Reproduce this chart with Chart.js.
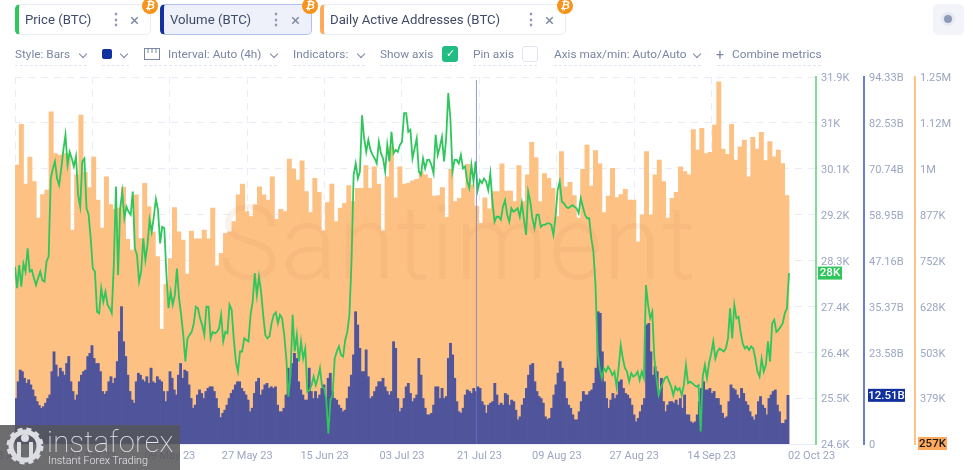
<!DOCTYPE html>
<html>
<head>
<meta charset="utf-8">
<title>Santiment BTC</title>
<script src="https://cdn.jsdelivr.net/npm/chart.js@4"></script>
<style>
html, body { margin: 0; padding: 0; background: #fff; width: 973px; height: 470px; overflow: hidden; font-family: Roboto, sans-serif; }
#chart { position: absolute; left: 0; top: 0; }
.tab { position: absolute; top: 4px; height: 31px; box-sizing: border-box; border: 1px solid #e8ecf5; border-left: 4px solid; border-radius: 5px; background: #fff; }
.tab.on { background: #eef1fa; border-color: #b3c0ea; border-left-color: #12309e; }
.tabtext { position: absolute; top: 11px; font-size: 13.2px; line-height: 18px; color: #3f4a66; white-space: nowrap; }
.dots { position: absolute; top: 10px; font-size: 16px; line-height: 20px; color: #8e99b3; font-weight: 700; }
.close { position: absolute; top: 10px; font-size: 17px; line-height: 20px; color: #7c88a3; }
.coin { position: absolute; top: -2px; width: 16px; height: 16px; border-radius: 50%; background: #f7931a; color: #fff; font-size: 11px; line-height: 16px; font-weight: 700; font-style: italic; text-align: center; }
.opt { position: absolute; top: 46px; height: 20px; font-size: 11.8px; line-height: 16px; color: #7a86a3; white-space: nowrap; border-bottom: 1px dashed #dfe4ef; box-sizing: border-box; }
.chev { position: absolute; top: 51px; width: 5px; height: 5px; border-right: 1px solid #7a86a3; border-bottom: 1px solid #7a86a3; transform: rotate(45deg); }
.box { position: absolute; top: 46px; width: 16px; height: 16px; border-radius: 3px; box-sizing: border-box; }
#mark { position: absolute; left: 218px; top: 184px; font-size: 104px; line-height: 120px; font-weight: 300; letter-spacing: 1.2px; color: rgba(205,140,85,0.11); pointer-events: none; white-space: nowrap; }
#logo { position: absolute; left: 0; top: 425px; width: 180px; height: 45px; background: rgba(85,85,88,0.86); color: #e8e9ee; overflow: hidden; }
#logo .big { position: absolute; left: 47px; top: -1px; font-size: 29px; line-height: 36px; font-weight: 100; letter-spacing: 0.3px; }
#logo .small { position: absolute; left: 48px; top: 29px; font-size: 10.8px; line-height: 14px; font-weight: 300; }
#logo svg { position: absolute; left: 6px; top: 2px; }
</style>
</head>
<body>
<canvas id="chart" width="973" height="470"></canvas>

<div class="tab" style="left:15px;width:136px;border-left-color:#2fc65c"></div>
<div class="tabtext" style="left:25px">Price (BTC)</div>
<div class="dots" style="left:108px">⋮</div><div class="close" style="left:130px">×</div>
<div class="coin" style="left:142px">₿</div>

<div class="tab on" style="left:160px;width:152px"></div>
<div class="tabtext" style="left:170px">Volume (BTC)</div>
<div class="dots" style="left:268px">⋮</div><div class="close" style="left:291px">×</div>
<div class="coin" style="left:302px">₿</div>

<div class="tab" style="left:320px;width:246px;border-left-color:#ffa95c"></div>
<div class="tabtext" style="left:330px">Daily Active Addresses (BTC)</div>
<div class="dots" style="left:523px">⋮</div><div class="close" style="left:545px">×</div>
<div class="coin" style="left:557px">₿</div>

<div style="position:absolute;left:933px;top:4px;width:31px;height:31px;border-radius:5px;background:#f2f4fa"></div>
<div style="position:absolute;left:941px;top:12px;width:14px;height:14px;border-radius:50%;background:#e6e9f3"></div>
<div style="position:absolute;left:944px;top:15px;width:8px;height:8px;border-radius:50%;background:#8d9ab8"></div>

<div class="opt" style="left:15px;width:72px">Style: Bars</div><div class="chev" style="left:80px"></div>
<div style="position:absolute;left:102px;top:49px;width:10px;height:10px;border-radius:2px;background:#12309e"></div><div class="chev" style="left:121px"></div>
<div class="opt" style="left:102px;width:27px"></div>
<svg style="position:absolute;left:144px;top:48px" width="17" height="13"><rect x="0.5" y="0.5" width="15" height="11" fill="none" stroke="#7a86a3"/><path d="M4 1v4M8 1v4M12 1v4" stroke="#7a86a3"/></svg>
<div class="opt" style="left:144px;width:133px;padding-left:24px">Interval: Auto (4h)</div><div class="chev" style="left:271px"></div>
<div class="opt" style="left:293px;width:72px">Indicators:</div><div class="chev" style="left:358px"></div>
<div class="opt" style="left:380px;width:77px">Show axis</div>
<div class="box" style="left:442px;background:#22bd83;color:#fff;font-size:11px;line-height:16px;text-align:center">✓</div>
<div class="opt" style="left:473px;width:64px">Pin axis</div>
<div class="box" style="left:522px;background:#fff;border:1px solid #dfe4ef"></div>
<div class="opt" style="left:554px;width:147px">Axis max/min: Auto/Auto</div><div class="chev" style="left:694px"></div>
<div class="opt" style="left:717px;width:104px;padding-left:15px">Combine metrics</div>
<div style="position:absolute;left:716px;top:47px;font-size:14px;line-height:16px;color:#7a86a3">+</div>

<div id="mark">Santiment</div>

<div id="logo">
  <svg width="38" height="38" viewBox="0 0 38 38">
    <circle cx="19" cy="19" r="14" fill="none" stroke="#dcdde3" stroke-width="5"/>
    <circle cx="19" cy="19" r="17" fill="none" stroke="#dcdde3" stroke-width="3" stroke-dasharray="5 4"/>
    <circle cx="19" cy="11" r="4" fill="#dcdde3"/>
    <path d="M11 15h4v17h-4zM23 15h4v17h-4z" fill="#dcdde3"/>
  </svg>
  <div class="big">instaforex</div>
  <div class="small">Instant Forex Trading</div>
</div>

<script>
// x axis labels, one every 18.2 days
const dateLabels = ['03 Apr 23', '21 Apr 23', '09 May 23', '27 May 23', '15 Jun 23', '03 Jul 23', '21 Jul 23', '09 Aug 23', '27 Aug 23', '14 Sep 23', '02 Oct 23'];
const priceLabels = ['24.6K', '25.5K', '26.4K', '27.4K', '28.3K', '29.2K', '30.1K', '31K', '31.9K'];
const volumeLabels = ['0', '11.79B', '23.58B', '35.37B', '47.16B', '58.95B', '70.74B', '82.53B', '94.33B'];
const addressLabels = ['257K', '379K', '503K', '628K', '752K', '877K', '1M', '1.12M', '1.25M'];

const dayCount = 182;
const priceRange = [24.6, 31.9];      // thousand USD
const volumeRange = [0, 94.33];       // billion
const addressRange = [257, 1250];     // thousand

// daily active addresses, thousand, one per day
const addresses = [
  1012, 1122, 960, 1033, 967, 868, 932, 944, 1156, 1043, 1039, 1043, 1043, 836, 985, 1147, 992, 951, 1033, 917,
  841, 980, 905, 892, 895, 952, 811, 782, 931, 813, 962, 899, 831, 764, 567, 689, 759, 897, 831, 809,
  717, 833, 812, 812, 836, 812, 895, 739, 773, 827, 831, 859, 931, 960, 886, 872, 904, 953, 931, 917,
  980, 865, 892, 886, 1028, 1001, 971, 1023, 940, 883, 976, 938, 834, 910, 960, 859, 895, 908, 956, 913,
  949, 949, 1010, 949, 1007, 960, 834, 980, 1062, 923, 1007, 960, 962, 969, 973, 994, 985, 976, 928, 929,
  951, 870, 1000, 913, 922, 949, 1014, 958, 901, 854, 923, 893, 940, 940, 1015, 941, 941, 913, 1010, 913,
  985, 1073, 1032, 913, 989, 976, 949, 872, 1048, 953, 965, 929, 868, 1000, 1066, 955, 1051, 1015, 883, 928,
  1003, 924, 932, 946, 917, 917, 804, 877, 1048, 877, 985, 1025, 967, 868, 922, 938, 1007, 994, 985, 1108,
  1052, 1111, 1043, 1046, 1120, 1237, 1055, 1041, 1122, 1025, 1061, 1079, 980, 1087, 1055, 1100, 1024, 1075, 1034, 1052,
  1016, 929
];

// volume, billion, read about twice a day
const volume = [
  11.7, 16.0, 19.0, 18.6, 16.9, 15.6, 16.5, 15.2, 13.9, 12.2, 10.9, 9.9, 9.2, 9.6, 10.5, 11.7, 12.6, 18.6, 23.7, 20.3,
  17.3, 19.5, 18.6, 17.7, 20.7, 22.5, 16.0, 13.5, 11.3, 12.6, 16.0, 17.7, 18.6, 19.0, 22.5, 23.3, 25.3, 22.0, 20.7, 20.7,
  18.6, 13.5, 12.8, 13.5, 16.0, 17.3, 15.6, 16.9, 21.2, 28.9, 35.3, 26.3, 22.5, 17.7, 13.5, 11.3, 10.5, 16.0, 18.2, 17.7,
  16.5, 16.0, 17.3, 15.6, 19.5, 16.0, 15.6, 17.3, 16.5, 16.0, 13.5, 10.9, 13.5, 18.6, 16.9, 13.9, 12.6, 17.7, 20.7, 16.9,
  19.0, 18.6, 15.2, 11.7, 9.2, 10.0, 12.6, 13.9, 13.0, 11.7, 13.5, 14.3, 14.7, 14.7, 13.5, 11.7, 9.2, 6.8, 7.9, 8.7,
  10.0, 11.7, 13.0, 13.9, 15.2, 16.0, 16.0, 14.3, 13.5, 12.6, 11.3, 8.3, 9.2, 13.0, 16.0, 16.9, 12.6, 13.9, 15.2, 15.6,
  14.3, 14.7, 14.3, 14.7, 10.0, 8.3, 8.3, 9.2, 12.6, 19.5, 16.9, 20.7, 23.3, 22.0, 16.0, 13.9, 12.6, 11.3, 11.3, 19.5,
  13.5, 11.7, 13.5, 11.7, 12.6, 14.3, 15.2, 11.7, 16.9, 18.2, 13.5, 11.7, 11.3, 10.0, 9.2, 8.3, 8.7, 11.7, 14.7, 17.7,
  22.9, 34.0, 30.6, 24.6, 18.6, 18.6, 24.2, 17.3, 11.7, 12.2, 13.5, 14.7, 16.0, 16.0, 16.9, 14.7, 13.5, 12.6, 13.5, 26.3,
  24.6, 11.7, 8.3, 9.2, 11.7, 14.7, 15.6, 13.0, 10.9, 11.7, 12.6, 22.0, 17.7, 11.7, 9.2, 7.5, 7.5, 7.9, 10.0, 14.7,
  14.7, 11.7, 14.3, 11.7, 12.2, 22.0, 25.9, 22.9, 16.9, 10.9, 8.3, 7.9, 9.2, 12.6, 13.9, 13.5, 13.0, 14.3, 13.5, 14.7,
  14.3, 10.9, 10.0, 7.9, 10.0, 10.5, 10.9, 15.6, 12.6, 10.0, 10.5, 10.0, 13.0, 12.6, 10.0, 11.3, 10.9, 8.7, 6.2, 7.0,
  10.0, 11.7, 14.3, 17.7, 20.3, 20.7, 16.0, 13.5, 12.2, 11.7, 10.5, 7.0, 6.3, 6.6, 9.2, 12.6, 15.2, 18.2, 21.2, 19.5,
  16.0, 11.7, 10.0, 9.2, 7.5, 6.2, 6.2, 8.3, 10.9, 13.5, 12.6, 12.6, 13.5, 13.9, 15.6, 19.5, 34.0, 33.6, 23.7, 16.0,
  11.7, 9.2, 11.3, 13.0, 11.7, 12.6, 16.0, 16.5, 14.3, 13.0, 12.6, 11.7, 10.0, 7.5, 5.7, 6.6, 8.3, 10.0, 11.7, 30.6,
  31.0, 23.7, 17.7, 19.9, 18.6, 12.6, 16.9, 10.9, 8.3, 10.0, 10.9, 10.9, 10.5, 11.3, 10.0, 11.7, 9.2, 12.6, 7.5, 7.5,
  5.7, 5.3, 5.7, 7.5, 10.9, 14.3, 16.0, 13.9, 13.9, 14.3, 13.0, 13.5, 11.7, 11.7, 10.0, 7.9, 6.6, 7.0, 10.9, 15.2,
  14.3, 13.9, 12.6, 11.7, 14.3, 13.0, 10.9, 10.0, 8.3, 7.0, 6.2, 7.5, 10.9, 12.2, 10.0, 9.2, 7.5, 11.7, 12.6, 13.5,
  13.9, 10.0, 8.3, 5.3, 5.3, 6.2, 12.51
];

// price, thousand USD, read about twice a day
const price = [
  28.13, 27.70, 28.16, 27.73, 28.19, 28.03, 28.49, 28.03, 28.06, 27.90, 27.76, 27.90, 28.03, 27.86, 27.83, 28.23, 28.33, 29.88, 30.08, 30.22,
  29.88, 29.75, 30.08, 30.45, 30.75, 30.15, 30.41, 30.28, 30.12, 30.32, 29.55, 29.32, 30.22, 30.28, 29.29, 29.16, 28.69, 28.09, 28.03, 27.23,
  27.20, 27.70, 27.43, 27.63, 27.37, 27.30, 27.20, 28.19, 29.72, 27.96, 29.29, 29.62, 29.09, 29.32, 29.22, 29.16, 29.62, 28.49, 28.36, 27.83,
  28.03, 28.69, 28.26, 28.56, 29.06, 28.82, 29.12, 29.47, 29.25, 28.59, 28.92, 28.89, 27.96, 27.30, 27.63, 27.37, 27.56, 28.09, 27.50, 27.17,
  26.77, 26.24, 26.70, 26.77, 26.83, 27.00, 27.33, 27.30, 27.10, 26.97, 26.77, 27.33, 27.33, 26.70, 26.83, 26.80, 26.83, 26.90, 27.17, 26.64,
  26.83, 26.80, 27.37, 27.27, 26.70, 26.24, 26.04, 26.44, 26.44, 26.70, 26.67, 26.64, 27.17, 27.43, 28.00, 27.56, 27.93, 27.63, 27.17, 26.77,
  26.70, 26.74, 27.00, 27.17, 27.22, 27.00, 27.17, 27.10, 26.77, 26.30, 25.54, 25.97, 27.17, 26.44, 26.77, 26.24, 26.64, 26.30, 26.50, 25.64,
  25.67, 25.77, 25.94, 25.77, 25.91, 26.11, 25.74, 25.71, 25.48, 24.81, 25.48, 25.57, 26.30, 26.44, 26.54, 26.37, 26.34, 26.67, 26.83, 27.17,
  28.23, 29.95, 30.18, 29.88, 30.02, 31.14, 30.68, 30.41, 30.65, 30.45, 30.35, 30.28, 30.18, 30.61, 30.38, 30.28, 30.02, 30.55, 30.22, 30.81,
  30.38, 30.45, 30.41, 30.55, 30.61, 31.18, 31.18, 30.81, 30.85, 30.28, 30.48, 30.68, 30.02, 29.95, 30.28, 30.08, 30.25, 30.25, 30.15, 29.98,
  30.75, 30.35, 30.51, 30.71, 30.22, 30.68, 31.58, 31.08, 30.02, 30.25, 30.25, 30.18, 30.35, 30.08, 30.12, 29.82, 29.69, 30.15, 29.82, 30.22,
  29.65, 29.85, 29.79, 29.88, 29.82, 29.65, 29.98, 29.42, 29.02, 29.12, 29.12, 29.06, 29.32, 29.45, 29.16, 29.02, 29.29, 29.22, 29.25, 29.29,
  29.12, 29.39, 29.06, 28.76, 29.62, 29.42, 29.09, 28.89, 29.16, 29.16, 28.92, 28.96, 28.96, 28.99, 28.99, 28.96, 28.76, 29.12, 29.65, 29.82,
  29.42, 29.39, 29.32, 29.29, 29.32, 29.35, 29.32, 29.29, 29.19, 29.49, 29.32, 29.16, 29.09, 29.09, 28.69, 28.43, 27.76, 26.44, 26.11, 25.91,
  26.11, 26.04, 26.14, 26.07, 25.97, 26.04, 25.74, 26.11, 26.57, 26.30, 26.11, 26.04, 25.84, 26.01, 25.94, 25.97, 26.04, 25.87, 26.04, 25.91,
  27.76, 27.37, 27.10, 27.23, 26.30, 25.91, 25.57, 25.71, 25.81, 25.91, 25.94, 25.84, 25.74, 25.57, 25.74, 25.67, 25.71, 25.57, 25.77, 26.17,
  25.81, 25.84, 25.81, 25.77, 25.74, 25.77, 24.85, 25.94, 26.17, 25.91, 26.21, 26.40, 26.64, 26.30, 26.44, 26.50, 26.47, 26.44, 26.50, 26.70,
  27.30, 26.70, 27.37, 27.10, 27.13, 26.83, 26.60, 26.50, 26.54, 26.47, 26.54, 26.50, 26.30, 26.04, 25.94, 26.30, 26.04, 26.17, 26.64, 26.24,
  27.00, 27.07, 26.83, 26.87, 26.93, 27.00, 27.20, 27.30, 28.00
];

const crosshairDay = 108.5;

const GREEN = '#2fc65c', BLUE = '#12309e', ORANGE = '#ffa95c';
const TICK_COLOR = '#9ba6c2';

// spread n tick labels evenly over the axis range
function evenTicks(scale, labels) {
  const lo = scale.min, hi = scale.max;
  scale.ticks = labels.map((_, i) => ({ value: lo + (hi - lo) * i / (labels.length - 1) }));
}

function yAxis(range, labels, color, width, showGrid) {
  return {
    type: 'linear',
    position: 'right',
    min: range[0],
    max: range[1],
    afterBuildTicks: s => evenTicks(s, labels),
    afterFit: s => { s.width = width; },
    grid: { display: showGrid, color: '#e9ecf6', drawTicks: false },
    border: { display: true, color: color, width: 2, dash: [7, 6] },
    ticks: {
      autoSkip: false,
      padding: 5,
      labelOffset: 1.5,
      color: TICK_COLOR,
      font: { family: 'Roboto', size: 11 },
      callback: (v, i) => labels[i]
    }
  };
}

// last value tags, crosshair, last date label (it sits to the right of its tick)
const overlay = {
  id: 'overlay',
  afterDatasetsDraw(chart) {
    const ctx = chart.ctx, x = chart.scales.x.getPixelForValue(crosshairDay);
    ctx.save();
    ctx.strokeStyle = 'rgba(100,118,205,0.75)';
    ctx.lineWidth = 1;
    ctx.beginPath();
    ctx.moveTo(x, chart.chartArea.top + 3);
    ctx.lineTo(x, chart.chartArea.bottom);
    ctx.stroke();
    ctx.restore();
  },
  afterDraw(chart) {
    const ctx = chart.ctx;
    function tag(left, w, y, bg, fg, text) {
      ctx.fillStyle = bg;
      ctx.fillRect(left, y - 6.5, w, 13);
      ctx.fillStyle = fg;
      ctx.font = '500 11.5px Roboto';
      ctx.textAlign = 'center';
      ctx.textBaseline = 'middle';
      ctx.fillText(text, left + w / 2, y + 0.5);
    }
    tag(818, 24, chart.scales.yPrice.getPixelForValue(price[price.length - 1]), GREEN, '#fff', '28K');
    tag(868, 37, chart.scales.yVolume.getPixelForValue(volume[volume.length - 1]), BLUE, '#fff', '12.51B');
    tag(918, 29, chart.scales.yAddress.getPixelForValue(addressRange[0]) - 0.5, ORANGE, '#1a1a1a', '257K');

    ctx.fillStyle = TICK_COLOR;
    ctx.font = '11px Roboto';
    ctx.textAlign = 'left';
    ctx.textBaseline = 'middle';
    ctx.fillText(dateLabels[10], chart.scales.x.getPixelForValue(dayCount) - 1, 456.5);
  }
};

new Chart(document.getElementById('chart'), {
  type: 'bar',
  data: {
    datasets: [
      {
        type: 'line',
        label: 'Price (BTC)',
        yAxisID: 'yPrice',
        order: 0,
        data: price.map((v, i) => ({ x: i * dayCount / (price.length - 1), y: v })),
        borderColor: GREEN,
        borderWidth: 1.8,
        pointRadius: 0,
        tension: 0
      },
      {
        label: 'Volume (BTC)',
        yAxisID: 'yVolume',
        order: 1,
        grouped: false,
        data: volume.map((v, i) => ({ x: (i + 0.5) * dayCount / volume.length, y: v })),
        backgroundColor: '#50559b',
        barThickness: 2.2
      },
      {
        label: 'Daily Active Addresses (BTC)',
        yAxisID: 'yAddress',
        order: 2,
        grouped: false,
        data: addresses.map((v, i) => ({ x: i + 0.5, y: v })),
        backgroundColor: '#fdc184',
        barThickness: 4.3
      }
    ]
  },
  options: {
    responsive: false,
    animation: false,
    events: [],
    layout: { autoPadding: false, padding: { left: 15, top: 77, right: 0, bottom: 0 } },
    plugins: { legend: { display: false }, tooltip: { enabled: false } },
    scales: {
      x: {
        type: 'linear',
        offset: false,
        min: 0,
        max: 188.35,
        afterBuildTicks: s => { s.ticks = dateLabels.map((_, i) => ({ value: i * dayCount / 10 })); },
        // first label hangs over the left edge, don't let it push the plot
        afterFit: s => { s.height = 26; s.paddingLeft = 0; s.paddingRight = 0; },
        grid: {
          offset: false,
          drawTicks: false,
          color: c => (c.index === 10 ? 'rgba(0,0,0,0)' : '#e9ecf6')
        },
        border: { color: '#e9ecf6', dash: [7, 6] },
        ticks: {
          autoSkip: false,
          maxRotation: 0,
          padding: 6,
          color: TICK_COLOR,
          font: { family: 'Roboto', size: 11 },
          callback: (v, i) => (i === 10 ? '' : dateLabels[i])
        }
      },
      yPrice: yAxis(priceRange, priceLabels, '#7fdc9b', 48, true),
      yVolume: yAxis(volumeRange, volumeLabels, '#6a7fd0', 51, false),
      yAddress: yAxis(addressRange, addressLabels, '#ffc48a', 58, false)
    }
  },
  plugins: [overlay]
});
</script>
</body>
</html>
